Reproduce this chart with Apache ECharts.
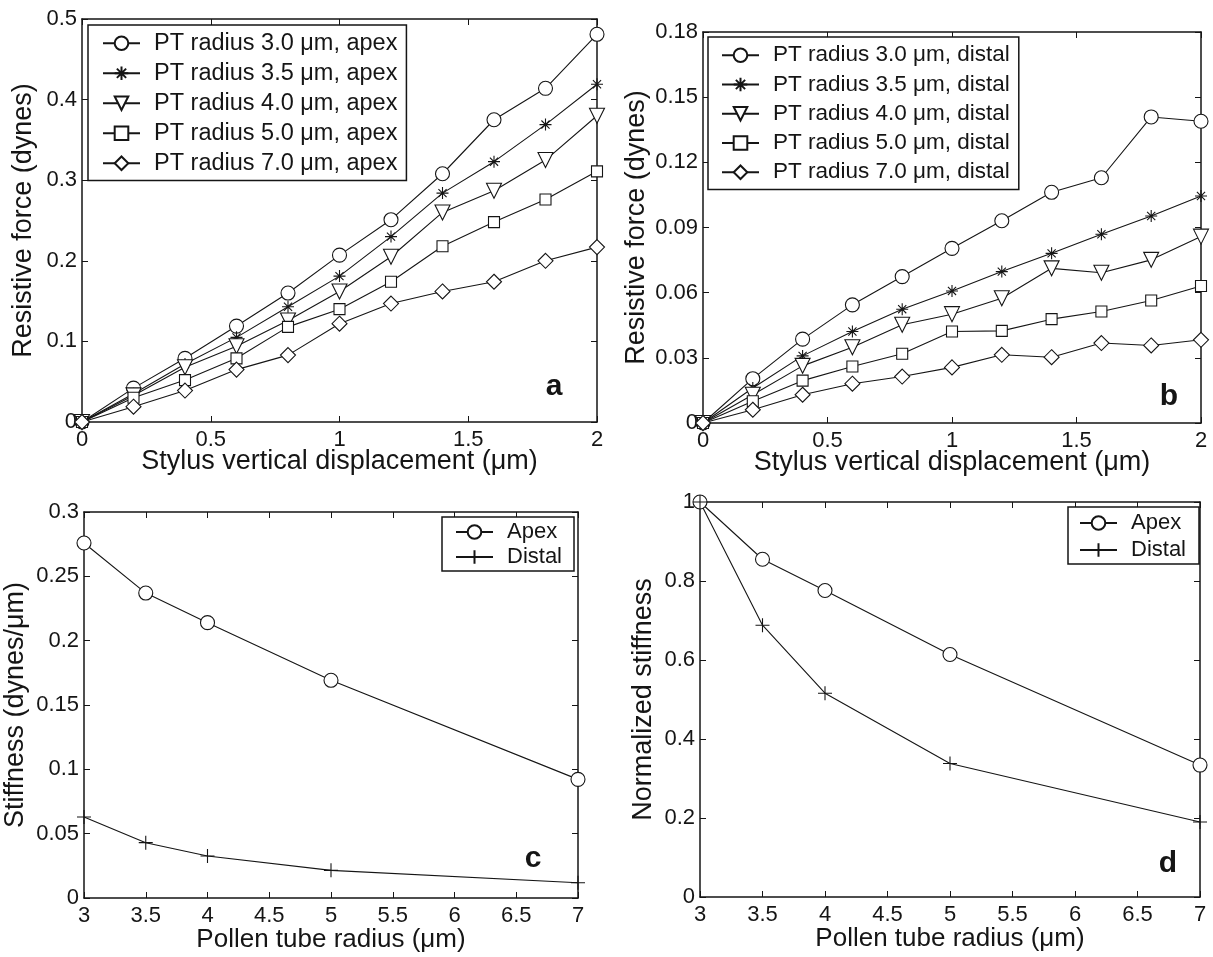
<!DOCTYPE html>
<html>
<head>
<meta charset="utf-8">
<script src="https://cdn.jsdelivr.net/npm/echarts@6/dist/echarts.min.js"></script>
<style>
html,body{margin:0;padding:0;background:#fff;}
#main{width:1213px;height:957px;}
</style>
</head>
<body>
<div id="main"></div>
<script>
/* data */
var displacement = [0, 0.2, 0.4, 0.6, 0.8, 1.0, 1.2, 1.4, 1.6, 1.8, 2.0];

var apex30 = [0, 0.042, 0.079, 0.119, 0.160, 0.207, 0.251, 0.308, 0.375, 0.414, 0.481];
var apex35 = [0, 0.035, 0.072, 0.105, 0.143, 0.181, 0.230, 0.284, 0.323, 0.369, 0.419];
var apex40 = [0, 0.033, 0.068, 0.094, 0.126, 0.162, 0.205, 0.260, 0.287, 0.325, 0.380];
var apex50 = [0, 0.030, 0.052, 0.079, 0.118, 0.140, 0.174, 0.218, 0.248, 0.276, 0.311];
var apex70 = [0, 0.019, 0.039, 0.065, 0.083, 0.122, 0.147, 0.162, 0.174, 0.200, 0.217];

var distal30 = [0, 0.0204, 0.0386, 0.0544, 0.0674, 0.0804, 0.0931, 0.1062, 0.1129, 0.1409, 0.1389];
var distal35 = [0, 0.0161, 0.0309, 0.0421, 0.0524, 0.0608, 0.0697, 0.0781, 0.0869, 0.0953, 0.1045];
var distal40 = [0, 0.0130, 0.0263, 0.0349, 0.0452, 0.0501, 0.0574, 0.0712, 0.0692, 0.0751, 0.0858];
var distal50 = [0, 0.0100, 0.0195, 0.0260, 0.0319, 0.0421, 0.0424, 0.0478, 0.0513, 0.0564, 0.0631];
var distal70 = [0, 0.0061, 0.0130, 0.0181, 0.0214, 0.0256, 0.0314, 0.0303, 0.0368, 0.0357, 0.0383];

var radius = [3, 3.5, 4, 5, 7];
var stiffApex = [0.2759, 0.2370, 0.2140, 0.1692, 0.0922];
var stiffDistal = [0.0630, 0.0430, 0.0326, 0.0215, 0.0119];
var normApex = [1.0, 0.855, 0.776, 0.614, 0.334];
var normDistal = [1.0, 0.688, 0.516, 0.338, 0.190];

var labelsA = ['PT radius 3.0 μm, apex', 'PT radius 3.5 μm, apex', 'PT radius 4.0 μm, apex', 'PT radius 5.0 μm, apex', 'PT radius 7.0 μm, apex'];
var labelsB = ['PT radius 3.0 μm, distal', 'PT radius 3.5 μm, distal', 'PT radius 4.0 μm, distal', 'PT radius 5.0 μm, distal', 'PT radius 7.0 μm, distal'];
var labelsCD = ['Apex', 'Distal'];

/* tick values */
var xTicksAB = [0, 0.5, 1, 1.5, 2];
var yTicksA = [0, 0.1, 0.2, 0.3, 0.4, 0.5];
var yTicksB = [0, 0.03, 0.06, 0.09, 0.12, 0.15, 0.18];
var xTicksCD = [3, 3.5, 4, 4.5, 5, 5.5, 6, 6.5, 7];
var yTicksC = [0, 0.05, 0.1, 0.15, 0.2, 0.25, 0.3];
var yTicksD = [0, 0.2, 0.4, 0.6, 0.8, 1];

var INK = '#151515';
var SANS = 'Liberation Sans, Arial, sans-serif';

var STAR = 'path://M5,0L5,10M0,5L10,5M1.6,1.6L8.4,8.4M1.6,8.4L8.4,1.6';
var PLUS = 'path://M5,0L5,10M0,5L10,5';

var markers = [
	{symbol: 'circle', size: 14, rotate: 0},
	{symbol: STAR, size: 12, rotate: 0},
	{symbol: 'triangle', size: 15, rotate: 180},
	{symbol: 'rect', size: 11, rotate: 0},
	{symbol: 'diamond', size: 15, rotate: 0}
];

function pairs(xs, ys){
	return xs.map(function(x, i){ return [x, ys[i]]; });
}

function fmt(v){
	return String(+v.toFixed(3));
}

function makeAxis(dim, grid, ticks, pos, showLabel, name, nameGap, nameSize){
	var ax = {
		type: 'value',
		gridIndex: grid,
		position: pos,
		min: ticks[0],
		max: ticks[ticks.length - 1],
		interval: ticks[1] - ticks[0],
		axisLine: {show: true, onZero: false, lineStyle: {color: INK, width: 1.5}},
		axisTick: {show: true, inside: true, length: 6, lineStyle: {color: INK, width: 1}},
		axisLabel: {show: showLabel, margin: dim == 'x' ? 7 : 5, fontSize: 22, fontFamily: SANS, color: INK, formatter: fmt},
		splitLine: {show: false}
	};
	if( name ){
		ax.name = name;
		ax.nameLocation = 'middle';
		ax.nameGap = nameGap;
		ax.nameMoveOverlap = false;
		ax.nameTextStyle = {fontSize: nameSize, fontFamily: SANS, color: INK};
	}
	return ax;
}

function lineSeries(name, data, grid, mk){
	return {
		name: name,
		type: 'line',
		xAxisIndex: grid * 2,
		yAxisIndex: grid * 2,
		data: data,
		symbol: mk.symbol,
		symbolSize: mk.size,
		symbolRotate: mk.rotate,
		symbolKeepAspect: true,
		clip: false,
		lineStyle: {color: INK, width: 1.1},
		itemStyle: {color: '#fff', borderColor: INK, borderWidth: 1.1},
		emphasis: {disabled: true},
		z: 3
	};
}

function makeLegend(names, left, top, padding, gap, fontSize){
	return {
		data: names,
		orient: 'vertical',
		left: left,
		top: top,
		padding: padding,
		itemGap: gap,
		itemWidth: 37,
		itemHeight: 17,
		backgroundColor: '#fff',
		borderColor: INK,
		borderWidth: 1.5,
		selectedMode: false,
		textStyle: {fontSize: fontSize, fontFamily: SANS, color: INK, padding: [0, 0, 0, 9]}
	};
}

var grids = [
	{left: 82, top: 19, width: 515, height: 403},
	{left: 703, top: 32, width: 498, height: 391},
	{left: 84, top: 512, width: 494, height: 386},
	{left: 700, top: 502, width: 500, height: 395}
];

var xAxes = [
	makeAxis('x', 0, xTicksAB, 'bottom', true, 'Stylus vertical displacement (μm)', 26, 27),
	makeAxis('x', 0, xTicksAB, 'top', false),
	makeAxis('x', 1, xTicksAB, 'bottom', true, 'Stylus vertical displacement (μm)', 26, 27),
	makeAxis('x', 1, xTicksAB, 'top', false),
	makeAxis('x', 2, xTicksCD, 'bottom', true, 'Pollen tube radius (μm)', 29, 26),
	makeAxis('x', 2, xTicksCD, 'top', false),
	makeAxis('x', 3, xTicksCD, 'bottom', true, 'Pollen tube radius (μm)', 29, 26),
	makeAxis('x', 3, xTicksCD, 'top', false)
];

var yAxes = [
	makeAxis('y', 0, yTicksA, 'left', true, 'Resistive force (dynes)', 45, 27),
	makeAxis('y', 0, yTicksA, 'right', false),
	makeAxis('y', 1, yTicksB, 'left', true, 'Resistive force (dynes)', 53, 27),
	makeAxis('y', 1, yTicksB, 'right', false),
	makeAxis('y', 2, yTicksC, 'left', true, 'Stiffness (dynes/μm)', 55, 27),
	makeAxis('y', 2, yTicksC, 'right', false),
	makeAxis('y', 3, yTicksD, 'left', true, 'Normalized stiffness', 43, 27),
	makeAxis('y', 3, yTicksD, 'right', false)
];

var apexSets = [apex30, apex35, apex40, apex50, apex70];
var distalSets = [distal30, distal35, distal40, distal50, distal70];
var series = [];
apexSets.forEach(function(ys, i){
	series.push(lineSeries(labelsA[i], pairs(displacement, ys), 0, markers[i]));
});
distalSets.forEach(function(ys, i){
	series.push(lineSeries(labelsB[i], pairs(displacement, ys), 1, markers[i]));
});
var plusMk = {symbol: PLUS, size: 14, rotate: 0};
series.push(lineSeries(labelsCD[0], pairs(radius, stiffApex), 2, markers[0]));
series.push(lineSeries(labelsCD[1], pairs(radius, stiffDistal), 2, plusMk));
series.push(lineSeries(labelsCD[0], pairs(radius, normApex), 3, markers[0]));
series.push(lineSeries(labelsCD[1], pairs(radius, normDistal), 3, plusMk));

var legends = [
	makeLegend(labelsA, 88, 25, [6.25, 9, 5.25, 14], 6, 23.5),
	makeLegend(labelsB, 708, 37, [6.75, 9, 5.75, 13], 6.25, 22.5),
	makeLegend(labelsCD, 442, 517, [4, 12, 3, 13], 3, 22),
	makeLegend(labelsCD, 1068, 507, [5, 13, 3, 11], 5, 22)
];

function letter(t, x, y){
	return {
		type: 'text', x: x, y: y, z: 10,
		style: {text: t, fill: INK, font: 'bold 30px Liberation Sans, Arial, sans-serif', align: 'center', verticalAlign: 'bottom'}
	};
}

var chart = echarts.init(document.getElementById('main'));
chart.setOption({
	animation: false,
	backgroundColor: '#fff',
	grid: grids,
	xAxis: xAxes,
	yAxis: yAxes,
	legend: legends,
	series: series,
	graphic: [
		letter('a', 554, 402),
		letter('b', 1169, 412),
		letter('c', 533, 874),
		letter('d', 1168, 879)
	]
});
</script>
</body>
</html>
